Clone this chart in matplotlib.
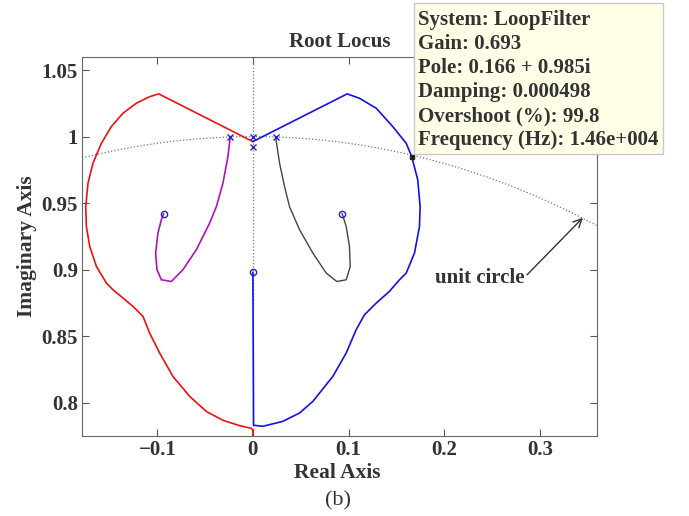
import numpy as np
import matplotlib.pyplot as plt
from matplotlib.patches import Rectangle

plt.rcParams['font.family'] = ['Liberation Serif', 'DejaVu Serif']

# root locus branches (real, imag)
red_re = [0.0, -0.0985, -0.108, -0.1218, -0.1358, -0.148, -0.1584, -0.1672, -0.1724, -0.1748,
          -0.1741, -0.1706, -0.1636, -0.1532, -0.1463, -0.1358, -0.1254, -0.1149, -0.108,
          -0.0975, -0.0836, -0.0661, -0.0487, -0.0313, -0.0139, -0.0017, 0.0, 0.0]
red_im = [0.99625, 1.0321, 1.030, 1.0251, 1.0176, 1.0075, 0.995, 0.980, 0.965, 0.9474,
          0.9324, 0.9174, 0.9024, 0.890, 0.8849, 0.8787, 0.8724, 0.8649, 0.8524,
          0.8374, 0.8198, 0.8048, 0.7935, 0.7868, 0.7828, 0.7808, 0.7795, 0.770]

blue_re = [0.0, 0.0986, 0.1115, 0.129, 0.1463, 0.1603, 0.1661, 0.1724, 0.1749, 0.1742,
           0.169, 0.1603, 0.1533, 0.1428, 0.129, 0.1167, 0.108, 0.0976, 0.0836, 0.0627,
           0.0488, 0.0313, 0.0104, 0.0007, 0.0]
blue_im = [0.99625, 1.0321, 1.0288, 1.0213, 1.0075, 0.995, 0.985, 0.9675, 0.9474, 0.9324,
           0.9125, 0.8974, 0.8924, 0.8837, 0.8749, 0.8661, 0.8549, 0.8374, 0.8198, 0.801,
           0.7923, 0.786, 0.7823, 0.7831, 0.898]

mag_re = [-0.0236, -0.0261, -0.0313, -0.0382, -0.0452, -0.0591, -0.0731, -0.0853, -0.0957,
          -0.1003, -0.1017, -0.0993, -0.0957, -0.0933]
mag_im = [1.0, 0.985, 0.965, 0.9474, 0.935, 0.915, 0.900, 0.8911, 0.8924,
          0.900, 0.9125, 0.9275, 0.9375, 0.942]

grey_re = [0.0237, 0.0279, 0.0331, 0.0383, 0.0488, 0.0627, 0.0767, 0.0878, 0.0976,
           0.1018, 0.1010, 0.0976, 0.0934]
grey_im = [1.0, 0.980, 0.9625, 0.9474, 0.930, 0.9125, 0.8974, 0.8911, 0.8924,
           0.9024, 0.9174, 0.9324, 0.942]

pole_re = [-0.0236, 0.0, 0.0, 0.0237]
pole_im = [1.0, 1.0, 0.992, 1.0]
zero_re = [-0.0933, 0.0, 0.0934]
zero_im = [0.942, 0.898, 0.942]

tip_re, tip_im = 0.166, 0.985
tip_lines = ['System: LoopFilter', 'Gain: 0.693', 'Pole: 0.166 + 0.985i',
             'Damping: 0.000498', 'Overshoot (%): 99.8', 'Frequency (Hz): 1.46e+004']

xlim = (-0.1787, 0.3595)
ylim = (0.775, 1.0598)
xticks = [-0.1, 0, 0.1, 0.2, 0.3]
xticklabels = ['\u22120.1', '0', '0.1', '0.2', '0.3']
yticks = [0.8, 0.85, 0.9, 0.95, 1.0, 1.05]
yticklabels = ['0.8', '0.85', '0.9', '0.95', '1', '1.05']

txt = '#333333'

fig = plt.figure(figsize=(6.89, 5.16), dpi=100)
ax = fig.add_axes([0.119, 0.155, 0.747, 0.7345])

# unit circle and imaginary axis
uc = np.linspace(xlim[0], xlim[1], 400)
ax.plot(uc, np.sqrt(1 - uc**2), ':', color='#777777', lw=0.9)
ax.axvline(0, ls=':', color='#777777', lw=0.9)

ax.plot(red_re, red_im, color='#ee1111', lw=1.2)
ax.plot(blue_re, blue_im, color='#1111ee', lw=1.2)
ax.plot(mag_re, mag_im, color='#b012c0', lw=1.2)
ax.plot(grey_re, grey_im, color='#444444', lw=1.0)

ax.plot(pole_re, pole_im, 'x', color='#2222cc', ms=4, mew=1.0)
ax.plot(zero_re, zero_im, 'o', color='#2222cc', ms=4.5, mfc='none', mew=1.0)
ax.plot([tip_re], [tip_im], 's', color='#222222', ms=3)

ax.set_xlim(*xlim)
ax.set_ylim(*ylim)
ax.set_xticks(xticks)
ax.set_xticklabels(xticklabels)
ax.set_yticks(yticks)
ax.set_yticklabels(yticklabels)
ax.tick_params(direction='in', top=True, right=True, length=5, color='#555555',
               labelsize=15, labelcolor=txt)
ax.tick_params(axis='y', pad=3)
ax.tick_params(axis='x', pad=3)
for lab in ax.get_xticklabels() + ax.get_yticklabels():
    lab.set_fontweight('bold')
for s in ax.spines.values():
    s.set_color('#666666')

ax.set_title('Root Locus', fontsize=15, fontweight='bold', color=txt, pad=7)
ax.set_xlabel('Real Axis', fontsize=15.5, fontweight='bold', color=txt)
ax.xaxis.set_label_coords(0.495, -27 / 379, transform=ax.transAxes)
ax.set_ylabel('Imaginary Axis', fontsize=15.5, fontweight='bold', color=txt, labelpad=3)

ax.annotate('unit circle', xy=(0.345, 0.939), xytext=(0.237, 0.894),
            fontsize=15, fontweight='bold', color=txt, ha='center', va='center',
            arrowprops=dict(arrowstyle='->', color='#333333', lw=1.0, shrinkA=0, shrinkB=0,
                            relpos=(1.0, 0.5)))

# data tip box
W, H = 689, 516
fig.patches.append(Rectangle((414 / W, 1 - 154 / H), 249 / W, 151 / H,
                             transform=fig.transFigure, facecolor='#ffffe8',
                             edgecolor='#c8c8c8', lw=1.0, zorder=5))
for i, line in enumerate(tip_lines):
    fig.text(418 / W, 1 - (20 + 24 * i) / H, line, fontsize=15, fontweight='bold',
             color=txt, va='center', ha='left', zorder=6)

fig.text(338 / W, 1 - 501 / H, '(b)', fontsize=16, color=txt, ha='center', va='center')

fig.savefig('out.png', dpi=100)
